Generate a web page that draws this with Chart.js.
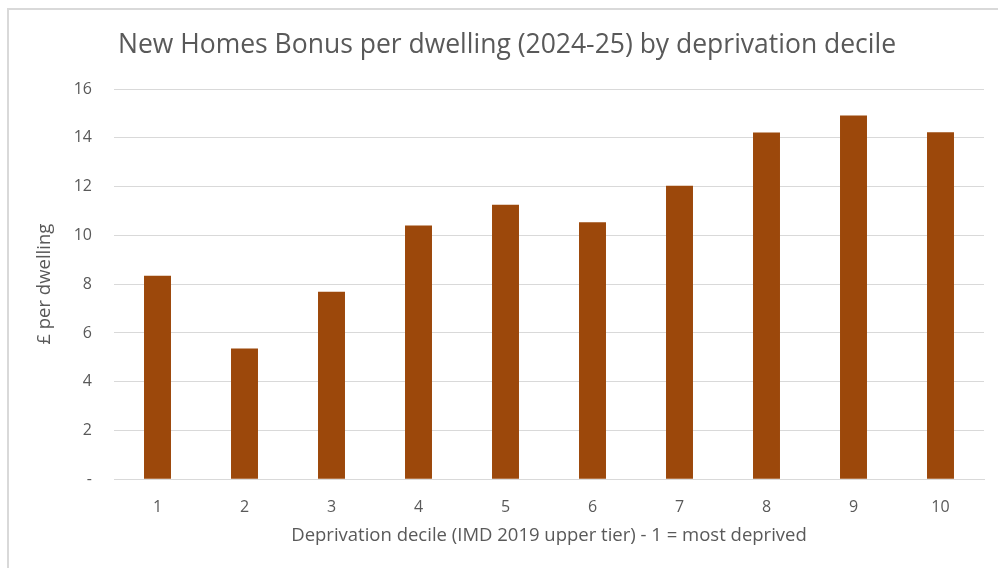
<!DOCTYPE html>
<html>
<head>
<meta charset="utf-8">
<script src="https://cdn.jsdelivr.net/npm/chart.js@4.4.1/dist/chart.umd.min.js"></script>
<style>
  html, body { margin: 0; padding: 0; background: #ffffff; }
  #wrap { position: relative; width: 998px; height: 568px; overflow: hidden; }
  #frame { position: absolute; left: 7px; top: 8px; width: 1200px; height: 800px;
           border-left: 2px solid #d9d9d9; border-top: 2px solid #d9d9d9; box-sizing: border-box; }
  canvas { position: absolute; left: 0; top: 0; }
</style>
</head>
<body>
<div id="wrap">
  <div id="frame"></div>
  <canvas id="c" width="998" height="568"></canvas>
</div>
<script>
const categories = ['1', '2', '3', '4', '5', '6', '7', '8', '9', '10'];
const perDwelling = [8.34, 5.36, 7.69, 10.40, 11.26, 10.54, 12.03, 14.22, 14.91, 14.23];
const yTicks = [0, 2, 4, 6, 8, 10, 12, 14, 16];
const chartTitle = 'New Homes Bonus per dwelling (2024-25) by deprivation decile';
const xTitle = 'Deprivation decile (IMD 2019 upper tier) - 1 = most deprived';
const yTitle = '£ per dwelling';

const FONT = "'Open Sans', 'Noto Sans', sans-serif";
const GREY = '#595959';

new Chart(document.getElementById('c'), {
  type: 'bar',
  data: {
    labels: categories,
    datasets: [{
      data: perDwelling,
      backgroundColor: '#9c480b',
      borderWidth: 0,
      barPercentage: 0.31,
      categoryPercentage: 1.0
    }]
  },
  options: {
    responsive: false,
    animation: false,
    devicePixelRatio: 1,
    layout: { padding: { left: 30, right: 14, top: 0, bottom: 0 } },
    plugins: {
      legend: { display: false },
      tooltip: { enabled: false },
      title: {
        display: true,
        text: chartTitle,
        color: GREY,
        font: { family: FONT, size: 26.5, weight: 'normal', lineHeight: 1.2 },
        padding: { top: 30, bottom: 27.2 }
      }
    },
    scales: {
      x: {
        grid: { display: false, drawTicks: false },
        border: { display: true, color: '#d9d9d9', width: 1 },
        ticks: { color: GREY, font: { family: FONT, size: 16 }, padding: 19, maxRotation: 0 },
        title: {
          display: true, text: xTitle, color: GREY,
          font: { family: FONT, size: 18.5, lineHeight: 1.2 },
          padding: { top: 0, bottom: 21 }
        },
        afterFit: (s) => { s.height = 88.7; }
      },
      y: {
        min: 0, max: 16,
        afterBuildTicks: (s) => { s.ticks = yTicks.map(v => ({ value: v })); },
        grid: { color: '#d9d9d9', lineWidth: 1, drawTicks: false },
        border: { display: false },
        ticks: {
          color: GREY, font: { family: FONT, size: 16 }, padding: 22,
          callback: (v) => v === 0 ? '-' : String(v)
        },
        title: {
          display: true, text: yTitle, color: GREY,
          font: { family: FONT, size: 18.5, lineHeight: 1.2 },
          padding: { top: 4, bottom: 0 }
        },
        afterFit: (s) => { s.width = 84; }
      }
    }
  }
});
</script>
</body>
</html>
